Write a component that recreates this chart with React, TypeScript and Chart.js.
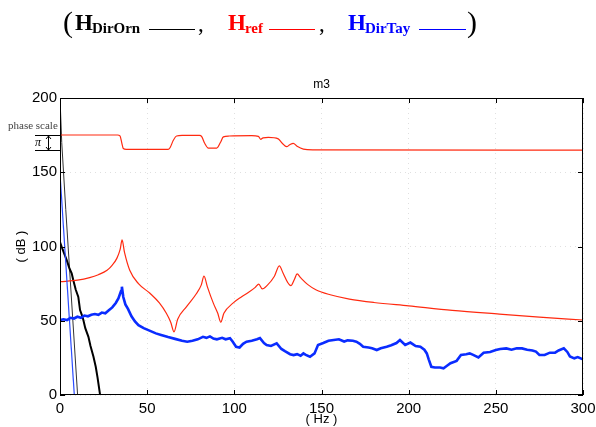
import React, { useEffect, useRef } from "react";
import { Chart, registerables } from "chart.js";

Chart.register(...registerables);

// ---------- data ----------
const xTicks = [0, 50, 100, 150, 200, 250, 300];
const yTicks = [0, 50, 100, 150, 200];

// H_ref magnitude (dB)
const refMagHz = [0, 10, 17, 22, 27, 30, 32.6, 34.5, 35.6, 37, 40, 45, 51.6, 57, 61, 63.5, 65.4, 67.5, 72.6, 78.4, 81, 82.6, 84.5, 88, 90.5, 92.2, 94, 99.4, 104, 108, 112, 114, 116, 119, 123, 125.8, 128, 130.5, 132.4, 134.5, 136, 138, 142, 147, 155, 166, 180, 200, 225, 252, 275, 300];
const refMagDb = [76.3, 77.3, 79, 81, 84, 87.5, 92, 98, 104.4, 96, 84, 75, 68.5, 62, 55, 49, 42.5, 51, 59.5, 68.5, 74, 80, 73, 61.7, 55, 49, 55, 62, 66, 69, 72.5, 74.7, 71.4, 74, 80, 86.9, 82, 76, 73.6, 78, 81.5, 79, 74.5, 70.7, 67.5, 64.6, 62.3, 60, 57, 54.5, 52.5, 50.5];

// H_ref phase (drawn on the phase scale)
const refPhaseHz = [0, 33, 34.4, 35.4, 36.3, 38, 62, 63.1, 65, 66.9, 70, 80, 81.3, 83, 85.1, 89.9, 92, 93.7, 97, 110, 113.8, 115.1, 116.5, 119.5, 125.2, 127.5, 130, 131.8, 133.8, 136, 139.6, 145, 300];
const refPhaseDb = [175.1, 175.1, 174.5, 170, 166, 165.4, 165.4, 166.5, 171.5, 174.4, 174.8, 174.8, 174, 169.5, 166.3, 166.3, 170, 173.8, 174.4, 174.6, 174.2, 172.2, 173.2, 173.5, 172.5, 169.5, 167.2, 168.5, 169.5, 167.5, 165.6, 165.1, 164.9];

// H_DirTay measured (noisy) magnitude
const tayHz = [0, 2, 4, 6, 8, 10, 12, 14, 16, 18, 20, 22, 24, 26, 28, 30, 32, 33.5, 35, 35.5, 36.3, 37.5, 39, 41, 43, 45, 48, 51, 55, 58, 62, 66, 70, 73, 76, 79, 82, 84, 86, 88, 90, 93, 95, 97.5, 99, 101, 103, 105, 107, 110, 113, 114.7, 117, 118.5, 121, 124.3, 127, 129, 132, 134, 136, 138, 139.6, 141, 143.4, 146, 148, 151, 154, 157, 160, 163, 165, 168, 170, 172, 173.9, 177, 179, 181.7, 184, 187.4, 190, 193, 195, 198, 201, 204, 206.7, 209, 210.4, 211.5, 213, 215, 218, 220, 221.8, 224, 227.5, 230, 233, 235, 237, 240, 243, 246.7, 250, 252.5, 256, 259, 262, 265, 268, 271, 273, 275, 278, 281, 284, 286, 289, 291, 292.5, 295, 297, 300];
const tayDb = [50.5, 51, 50.5, 52, 51.5, 52.7, 52, 53.5, 53, 54, 54.5, 54, 55.5, 55, 57, 59, 62, 65, 70, 72.9, 66, 61, 58, 53, 49.5, 47, 45, 43.5, 41.5, 40.4, 39, 37.8, 36.5, 35.9, 36.5, 37.5, 39.2, 38.5, 39.5, 38, 37.5, 38.5, 37.5, 38.2, 36, 32.5, 32, 34.5, 35.9, 36.5, 37.5, 38.3, 35, 33.7, 33, 34.8, 31, 29.5, 27.5, 26.9, 27.5, 26.5, 28, 27, 25.8, 28, 33.7, 35, 36.5, 37, 37.5, 36, 36.8, 36.5, 35.9, 34.5, 32.5, 32, 31.5, 30.3, 31.5, 32.5, 33.5, 35, 37, 33.7, 35.3, 33, 32.5, 30.5, 28, 24, 19, 18.5, 18.5, 18, 19.5, 21.4, 23, 26.9, 27.5, 28, 27, 25.3, 28.5, 29, 30.3, 31, 31.4, 30.5, 31.5, 31.4, 30.5, 30, 29.2, 27, 26.9, 28.5, 28.5, 30, 31.4, 29, 26, 24.7, 25.5, 24, 23.6];

// H_DirTay straight line
const tayLineHz = [0, 8.2];
const tayLineDb = [149, 0];

// H_DirOrn noisy curve
const ornHz = [0, 1.5, 3.8, 5.5, 6.7, 7.6, 9, 10.5, 11.5, 12.5, 13.4, 14.5, 16.3, 17.5, 19.2, 20.5, 21.5, 23];
const ornDb = [103, 98, 91, 85, 82, 77.4, 71, 66, 57.2, 54, 50.5, 45, 39.2, 33, 25.8, 19, 12, 0];

// H_DirOrn straight line
const ornLineHz = [0, 1, 3.3, 10.1];
const ornLineDb = [200, 170, 125, 0];

const zip = (xs: number[], ys: number[]) => xs.map((x, i) => ({ x, y: ys[i] }));

// ---------- decoration plugin ----------
const decor = {
  id: "decor",
  afterDatasetsDraw(chart: any) {
    const { ctx, chartArea: a, scales } = chart;
    const xs = scales.x, ys = scales.y;
    ctx.save();
    // frame
    ctx.strokeStyle = "#000";
    ctx.lineWidth = 1;
    ctx.strokeRect(a.left + 0.5, a.top + 0.5, a.right - a.left - 1, a.bottom - a.top - 1);
    // inward ticks
    const tl = 5;
    ctx.beginPath();
    xTicks.forEach((v) => {
      const px = Math.round(xs.getPixelForValue(v)) + 0.5;
      ctx.moveTo(px, a.bottom);
      ctx.lineTo(px, a.bottom - tl);
      ctx.moveTo(px, a.top);
      ctx.lineTo(px, a.top + tl);
    });
    yTicks.forEach((v) => {
      const py = Math.round(ys.getPixelForValue(v)) + 0.5;
      ctx.moveTo(a.left, py);
      ctx.lineTo(a.left + tl, py);
      ctx.moveTo(a.right, py);
      ctx.lineTo(a.right - tl, py);
    });
    ctx.stroke();

    // titles
    ctx.fillStyle = "#000";
    ctx.font = '12px "Liberation Sans", Arial, sans-serif';
    ctx.textAlign = "center";
    ctx.textBaseline = "alphabetic";
    ctx.fillText("m3", (a.left + a.right) / 2, 88);
    ctx.font = '13px "Liberation Sans", Arial, sans-serif';
    ctx.textBaseline = "middle";
    ctx.fillText("( Hz )", (a.left + a.right) / 2, 419);
    ctx.save();
    ctx.translate(21, (a.top + a.bottom) / 2);
    ctx.rotate(-Math.PI / 2);
    ctx.fillText("( dB )", 0, 0);
    ctx.restore();

    // phase scale annotation
    ctx.font = '11px "Liberation Serif", "Times New Roman", serif';
    ctx.fillStyle = "#444";
    ctx.textAlign = "left";
    ctx.textBaseline = "middle";
    ctx.fillText("phase scale", 8, 126);
    ctx.strokeStyle = "#000";
    ctx.lineWidth = 1;
    ctx.beginPath();
    ctx.moveTo(35, 135.5); ctx.lineTo(a.left, 135.5);
    ctx.moveTo(35, 150.5); ctx.lineTo(a.left, 150.5);
    ctx.moveTo(48.5, 136); ctx.lineTo(48.5, 150);
    ctx.moveTo(46, 139); ctx.lineTo(48.5, 136); ctx.lineTo(51, 139);
    ctx.moveTo(46, 147); ctx.lineTo(48.5, 150); ctx.lineTo(51, 147);
    ctx.stroke();
    ctx.fillStyle = "#000";
    ctx.font = 'italic 12px "Liberation Serif", "Times New Roman", serif';
    ctx.fillText("π", 35, 143);

    // legend-like header
    const big = 'bold 23px "Liberation Serif", "Times New Roman", serif';
    const sub = 'bold 15px "Liberation Serif", "Times New Roman", serif';
    const paren = '30px "Liberation Serif", "Times New Roman", serif';
    ctx.textBaseline = "alphabetic";
    ctx.textAlign = "left";
    ctx.font = paren;
    ctx.fillStyle = "#000";
    ctx.fillText("(", 63, 32);
    ctx.fillText(")", 467, 32);
    const items = [
      { x: 75, sub: "DirOrn", color: "#000", line: [149, 195], comma: 198 },
      { x: 228, sub: "ref", color: "#ff0000", line: [269, 315], comma: 319 },
      { x: 348, sub: "DirTay", color: "#0000ff", line: [419, 466], comma: null as number | null },
    ];
    items.forEach((it) => {
      ctx.fillStyle = it.color;
      ctx.font = big;
      ctx.fillText("H", it.x, 30);
      const w = ctx.measureText("H").width;
      ctx.font = sub;
      ctx.fillText(it.sub, it.x + w - 1, 33);
      ctx.strokeStyle = it.color;
      ctx.lineWidth = 1;
      ctx.beginPath();
      ctx.moveTo(it.line[0], 29.5);
      ctx.lineTo(it.line[1], 29.5);
      ctx.stroke();
      if (it.comma !== null) {
        ctx.fillStyle = "#000";
        ctx.font = '23px "Liberation Serif", "Times New Roman", serif';
        ctx.fillText(",", it.comma, 31);
      }
    });
    ctx.restore();
  },
};

export default function App() {
  const ref = useRef<HTMLCanvasElement | null>(null);
  useEffect(() => {
    document.body.style.margin = "0";
    const canvas = ref.current!;
    const chart = new Chart(canvas, {
      type: "line",
      data: {
        datasets: [
          {
            label: "H_DirTay",
            data: zip(tayHz, tayDb),
            borderColor: "#0a2cff",
            borderWidth: 2.6,
            pointRadius: 0,
            tension: 0,
            order: 0,
          },
          {
            label: "H_DirTay line",
            data: zip(tayLineHz, tayLineDb),
            borderColor: "#2a4bff",
            borderWidth: 1.2,
            pointRadius: 0,
            order: 1,
          },
          {
            label: "H_ref",
            data: zip(refMagHz, refMagDb),
            borderColor: "#ff2a10",
            borderWidth: 1.2,
            pointRadius: 0,
            cubicInterpolationMode: "monotone",
            order: 2,
          },
          {
            label: "H_ref phase",
            data: zip(refPhaseHz, refPhaseDb),
            borderColor: "#ff2a10",
            borderWidth: 1.2,
            pointRadius: 0,
            cubicInterpolationMode: "monotone",
            order: 2,
          },
          {
            label: "H_DirOrn",
            data: zip(ornHz, ornDb),
            borderColor: "#000",
            borderWidth: 2,
            pointRadius: 0,
            tension: 0,
            order: 3,
          },
          {
            label: "H_DirOrn line",
            data: zip(ornLineHz, ornLineDb),
            borderColor: "#333",
            borderWidth: 1,
            pointRadius: 0,
            order: 3,
          },
        ],
      },
      options: {
        animation: false,
        responsive: false,
        devicePixelRatio: 1,
        layout: { padding: { top: 98, right: 13, left: 0, bottom: 0 } },
        plugins: { legend: { display: false }, title: { display: false }, tooltip: { enabled: false } },
        scales: {
          x: {
            type: "linear",
            min: 0,
            max: 300,
            afterFit: (s: any) => { s.height = 32; s.paddingLeft = 0; s.paddingRight = 0; },
            afterBuildTicks: (s: any) => { s.ticks = xTicks.map((v) => ({ value: v })); },
            ticks: { color: "#000", padding: 5, font: { family: '"Liberation Sans", Arial, sans-serif', size: 15 } },
            grid: { color: "rgba(0,0,0,0.12)", drawTicks: false, lineWidth: 1 },
            border: { display: false, dash: [1, 4] },
          },
          y: {
            type: "linear",
            min: 0,
            max: 200,
            afterFit: (s: any) => { s.width = 60; s.paddingTop = 0; s.paddingBottom = 0; },
            afterBuildTicks: (s: any) => { s.ticks = yTicks.map((v) => ({ value: v })); },
            ticks: { color: "#000", padding: 3, font: { family: '"Liberation Sans", Arial, sans-serif', size: 15 } },
            grid: { color: "rgba(0,0,0,0.12)", drawTicks: false, lineWidth: 1 },
            border: { display: false, dash: [1, 4] },
          },
        },
      },
      plugins: [decor],
    } as any);
    return () => chart.destroy();
  }, []);
  return (
    <div style={{ position: "relative", width: 596, height: 427, background: "#fff" }}>
      <canvas ref={ref} width={596} height={427} style={{ display: "block", width: 596, height: 427 }} />
    </div>
  );
}
